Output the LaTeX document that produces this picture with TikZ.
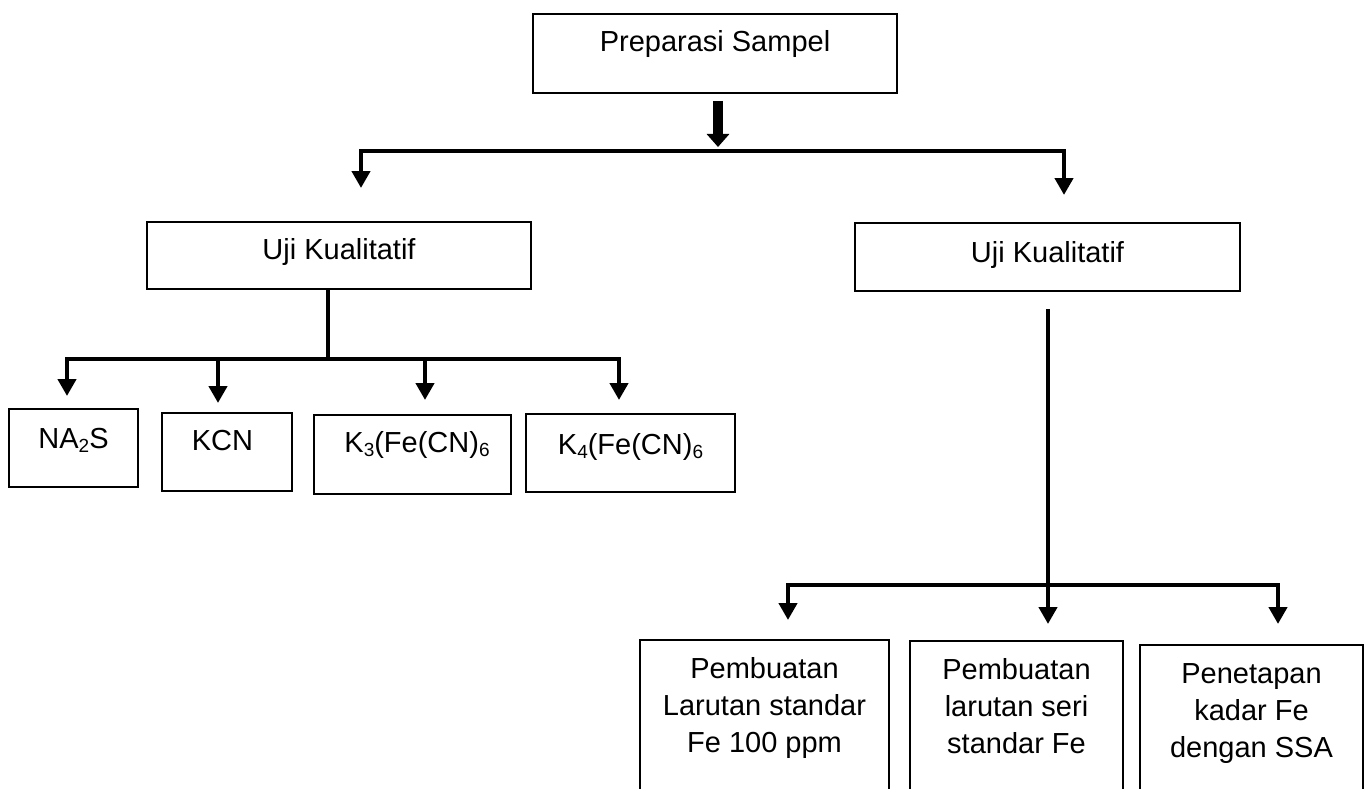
\documentclass[tikz,border=0pt]{standalone}
\usepackage{fontspec}
\setmainfont{Liberation Sans}
\usetikzlibrary{arrows.meta}
\newcommand{\sbx}[1]{\raisebox{-0.14em}{\fontsize{19}{19}\selectfont #1}}
\begin{document}
\begin{tikzpicture}[x=1pt,y=-1pt,
  box/.style={draw, line width=2pt, rectangle, inner sep=0pt},
  txt/.style={anchor=base, inner sep=0pt, font=\fontsize{29}{37}\selectfont},
  conn/.style={line width=4.5pt, line join=miter},
  tipA/.tip={Triangle[width=18pt,length=17pt]},
  tipB/.tip={Triangle[width=22pt,length=13pt]}]
\useasboundingbox (0,0) rectangle (1365,789);
\clip (0,0) rectangle (1365,789);
% boxes
\node[box, minimum width=364pt, minimum height=79pt] (prep) at (715,53.5) {};
\node[box, minimum width=384pt, minimum height=67pt] (ujiL) at (339,255.5) {};
\node[box, minimum width=385pt, minimum height=68pt] (ujiR) at (1047.5,257) {};
\node[box, minimum width=129pt, minimum height=78pt] (na2s) at (73.5,448) {};
\node[box, minimum width=130pt, minimum height=78pt] (kcn) at (227,452) {};
\node[box, minimum width=197pt, minimum height=79pt] (k3) at (412.5,454.5) {};
\node[box, minimum width=209pt, minimum height=78pt] (k4) at (630.5,453) {};
\node[box, minimum width=249pt, minimum height=160pt] (b1) at (764.5,720) {};
\node[box, minimum width=213pt, minimum height=160pt] (b2) at (1016.5,721) {};
\node[box, minimum width=223pt, minimum height=160pt] (b3) at (1251.5,725) {};
% texts
\node[txt] (prepT) at ([yshift=-39pt]prep.north) {Preparasi Sampel};
\node[txt] (ujiLT) at ([yshift=-38pt]ujiL.north) {Uji Kualitatif};
\node[txt] (ujiRT) at ([yshift=-40pt]ujiR.north) {Uji Kualitatif};
\node[txt] (na2sT) at ([yshift=-40pt]na2s.north) {NA\sbx{2}S};
\node[txt] (kcnT) at ([xshift=-4.5pt,yshift=-38pt]kcn.north) {KCN};
\node[txt] (k3T) at ([xshift=4.5pt,yshift=-38pt]k3.north) {K\sbx{3}(Fe(CN)\sbx{6}};
\node[txt] (k4T) at ([yshift=-41pt]k4.north) {K\sbx{4}(Fe(CN)\sbx{6}};
\node[txt] (b1T) at ([yshift=-39pt]b1.north) {\begin{tabular}[t]{@{}c@{}}Pembuatan\\Larutan standar\\Fe 100 ppm\end{tabular}};
\node[txt] (b2T) at ([yshift=-39pt]b2.north) {\begin{tabular}[t]{@{}c@{}}Pembuatan\\larutan seri\\standar Fe\end{tabular}};
\node[txt] (b3T) at ([yshift=-39pt]b3.north) {\begin{tabular}[t]{@{}c@{}}Penetapan\\kadar Fe\\dengan SSA\end{tabular}};
% junction coordinates
\coordinate (j1) at (718,147);
\coordinate (h1) at (361,151);
\coordinate (h2) at (1064,151);
\coordinate (tl) at (361,188);
\coordinate (tr) at (1064,195);
\coordinate (v1) at (328,359);
\coordinate (c1) at (67,359);
\coordinate (c2) at (218,359);
\coordinate (c3) at (425,359);
\coordinate (c4) at (619,359);
\coordinate (t1) at (67,396);
\coordinate (t2) at (218,403);
\coordinate (t3) at (425,400);
\coordinate (t4) at (619,400);
\coordinate (e1) at (788,585);
\coordinate (e3) at (1278,585);
\coordinate (d1) at (788,620);
\coordinate (d2) at (1048,624);
\coordinate (d3) at (1278,624);
% connectors
\draw[line width=10pt, -tipB] ([xshift=3pt,yshift=-7pt]prep.south) -- (j1);
\draw[conn, tipA-tipA] (tl) -- (h1) -- (h2) -- (tr);
\draw[conn] (ujiL.south -| v1) -- (v1);
\draw[conn, tipA-tipA] (t1) -- (c1) -- (c4) -- (t4);
\draw[conn, -tipA] (c2) -- (t2);
\draw[conn, -tipA] (c3) -- (t3);
\draw[conn, -tipA] ([yshift=-17pt]ujiR.south -| d2) -- (d2);
\draw[conn, tipA-tipA] (d1) -- (e1) -- (e3) -- (d3);
\end{tikzpicture}
\end{document}
